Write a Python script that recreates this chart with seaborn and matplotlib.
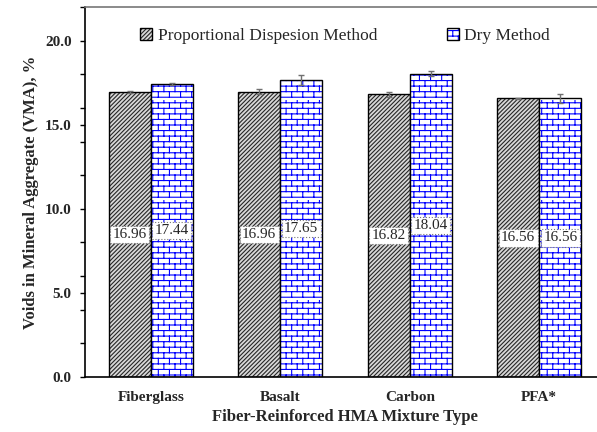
import numpy as np
import pandas as pd
import matplotlib
matplotlib.use("Agg")
import matplotlib.pyplot as plt
import matplotlib.colors as mcolors
from matplotlib import hatch as mhatch
from matplotlib.ticker import MultipleLocator, FormatStrFormatter
from matplotlib.path import Path
import seaborn as sns

# ---------------- data ----------------
categories = ["Fiberglass", "Basalt", "Carbon", "PFA*"]
methods = ["Proportional Dispesion Method", "Dry Method"]
prop_values = [16.96, 16.96, 16.82, 16.56]
dry_values = [17.44, 17.65, 18.04, 16.56]
prop_err = [0.05, 0.15, 0.15, 0.02]
dry_err = [0.05, 0.30, 0.15, 0.25]
x_label = "Fiber-Reinforced HMA Mixture Type"
y_label = "Voids in Mineral Aggregate (VMA), %"


# ---------------- brick hatch (replaces the '*' star hatch) ----------------
class BrickHatch(mhatch.HatchPatternBase):
    rows = 18
    cols = 9

    def __init__(self, hatch, density):
        if "*" in hatch:
            self.num_vertices = self.rows * 2 + self.rows * self.cols * 2
        else:
            self.num_vertices = 0

    def set_vertices_and_codes(self, vertices, codes):
        r, c = self.rows, self.cols
        ys = (np.arange(r) + 0.5) / r
        vertices[0:2 * r:2, 0] = 0.0
        vertices[0:2 * r:2, 1] = ys
        vertices[1:2 * r:2, 0] = 1.0
        vertices[1:2 * r:2, 1] = ys
        codes[0:2 * r:2] = Path.MOVETO
        codes[1:2 * r:2] = Path.LINETO
        i = 2 * r
        for k in range(r):
            for j in range(c):
                x = (j + 0.25 + 0.5 * (k % 2)) / c
                vertices[i] = (x, ys[k])
                vertices[i + 1] = (x, ys[k] + 1.0 / r)
                codes[i] = Path.MOVETO
                codes[i + 1] = Path.LINETO
                i += 2


mhatch._hatch_types[:] = [t for t in mhatch._hatch_types if t is not mhatch.Stars] + [BrickHatch]

# ---------------- style ----------------
sns.set_style("ticks")
plt.rcParams["font.family"] = ["Liberation Serif", "DejaVu Serif"]
plt.rcParams["hatch.linewidth"] = 0.8

df = pd.DataFrame({
    "Type": categories * 2,
    "VMA": prop_values + dry_values,
    "Method": [methods[0]] * len(categories) + [methods[1]] * len(categories),
})

fig = plt.figure(figsize=(5.97, 4.32), dpi=100)
ax = fig.add_axes([85 / 597, 1 - 377 / 432, 520 / 597, 370 / 432])

sns.barplot(data=df, x="Type", y="VMA", hue="Method", order=categories,
            hue_order=methods, palette=["white", "white"], saturation=1,
            edgecolor="black", linewidth=1.0, width=0.65, errorbar=None,
            legend=False, ax=ax)


def set_hatch_color(p, color):
    if hasattr(p, "set_hatchcolor"):
        p.set_hatchcolor(color)
    else:
        p._hatch_color = mcolors.to_rgba(color)
    p.stale = True


styles = [("////////", "#262626", "#d8d8d8"), ("*", "#0000ff", "white")]
for cont, (h, hc, fc) in zip(ax.containers, styles):
    for p in cont.patches:
        p.set_facecolor(fc)
        p.set_hatch(h)
        set_hatch_color(p, hc)

# error bars and value labels
for cont, vals, errs in zip(ax.containers, [prop_values, dry_values], [prop_err, dry_err]):
    xs = [p.get_x() + p.get_width() / 2 for p in cont.patches]
    ax.errorbar(xs, vals, yerr=errs, fmt="none", ecolor="#707070",
                elinewidth=1.0, capsize=2.5, capthick=1.0, zorder=5)
    for x, v in zip(xs, vals):
        ax.text(x, v / 2, f"{v:.2f}", ha="center", va="center", fontsize=11,
                zorder=6,
                bbox=dict(boxstyle="square,pad=0.15", fc="white", ec="#777777",
                          ls=":", lw=0.8))

ax.set_ylim(0, 22)
ax.yaxis.set_major_locator(MultipleLocator(5))
ax.yaxis.set_minor_locator(MultipleLocator(2))
ax.yaxis.set_major_formatter(FormatStrFormatter("%.1f"))
ax.tick_params(axis="y", which="both", direction="out", length=3.5, width=1,
               color="black", pad=6)
ax.tick_params(axis="y", labelsize=11)
ax.tick_params(axis="x", length=0, pad=10, labelsize=11)
for lab in ax.get_yticklabels() + ax.get_xticklabels():
    lab.set_fontweight("bold")

ax.set_xlabel(x_label, fontsize=12, fontweight="bold", labelpad=4)
ax.set_ylabel(y_label, fontsize=12, fontweight="bold", labelpad=4)

for s in ["left", "bottom"]:
    ax.spines[s].set_color("black")
    ax.spines[s].set_linewidth(1.2)
ax.spines["top"].set_visible(True)
ax.spines["top"].set_color("#777777")
ax.spines["top"].set_linewidth(1.2)
ax.spines["right"].set_visible(True)

handles = [ax.containers[0].patches[0], ax.containers[1].patches[0]]
ax.legend(handles, methods, loc="upper center", ncol=2, frameon=False,
          fontsize=12.5, handlelength=0.7, handleheight=0.7, handletextpad=0.3,
          columnspacing=4.0, bbox_to_anchor=(0.5, 0.985))

fig.savefig("out.png", dpi=100)
